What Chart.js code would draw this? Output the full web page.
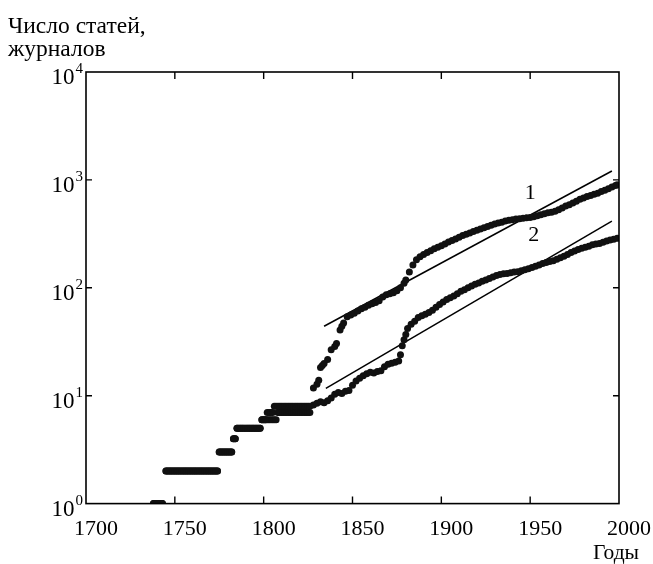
<!DOCTYPE html>
<html>
<head>
<meta charset="utf-8">
<script src="https://cdn.jsdelivr.net/npm/chart.js@4"></script>
<style>
  html, body { margin: 0; padding: 0; background: #fff; }
  #wrap { width: 653px; height: 564px; }
</style>
</head>
<body>
<div id="wrap"><canvas id="myChart" width="653" height="564"></canvas></div>
<script>
// годы и число статей (кривая 1)
var years1 = [1738,1739,1740,1741,1742,1743,
  1745,1746,1747,1748,1749,1750,1751,1752,1753,1754,1755,1756,1757,1758,1759,1760,1761,1762,1763,1764,1765,1766,1767,1768,1769,1770,1771,1772,1773,1774,
  1775,1776,1777,1778,1779,1780,1781,1782,1783,1784,
  1785,1786,1787,1788,1789,1790,1791,1792,1793,1794,1795,1796,1797,1798,
  1799,1800,1801,1802,1803,1804,1805,
  1806,1807,1808,1809,1810,1811,1812,1813,1814,1815,1816,1817,1818,1819,1820,1821,1822,1823,1824,1825,1826,
  1828,1830,1831,1832,1833,1834,1836,1838,1840,1841,1843,1844,1845,1847,1849,1851,1853,1855,1857,1859,1861,1863,1865,1867,1869,1871,1873,1875,1877,1879,1880,
  1882,1884,1886,1888,1890,1892,1894,1896,1898,1900,1902,1904,1906,1908,1910,1912,1914,1916,1918,1920,1922,1924,1926,1928,1930,1932,1934,1936,1938,1940,
  1942,1944,1946,1948,1950,1952,1954,1956,1958,1960,1962,1964,1966,1968,1970,1972,1974,1976,1978,1980,1982,1984,1986,1988,1990,1992,1994,1996,1998,1999];
var articles = [1,1,1,1,1,1,
  2,2,2,2,2,2,2,2,2,2,2,2,2,2,2,2,2,2,2,2,2,2,2,2,2,2,2,2,2,2,
  3,3,3,3,3,3,3,3,4,4,
  5,5,5,5,5,5,5,5,5,5,5,5,5,5,
  6,6,6,7,7,7,7,
  8,8,8,8,8,8,8,8,8,8,8,8,8,8,8,8,8,8,8,8,8,
  11.8,12.8,13.9,18.3,19,19.9,21.6,26.7,28.5,30.4,40.7,44,47.2,54,56,58,61,64,66,69,71,73,76,82,86,88,90,94,100,110,118,
  140,163,182,194,204,212,220,230,238,245,255,266,275,284,294,305,313,322,332,342,350,360,370,380,390,398,406,415,422,428,
  433,437,441,445,448,456,465,475,485,495,502,512,530,550,572,590,612,635,660,680,700,715,735,752,780,802,830,860,885,900];

// годы и число журналов (кривая 2)
var years2 = [1738,1739,1740,1741,1742,1743,
  1745,1746,1747,1748,1749,1750,1751,1752,1753,1754,1755,1756,1757,1758,1759,1760,1761,1762,1763,1764,1765,1766,1767,1768,1769,1770,1771,1772,1773,1774,
  1775,1776,1777,1778,1779,1780,1781,1782,1783,1784,
  1785,1786,1787,1788,1789,1790,1791,1792,1793,1794,1795,1796,1797,1798,
  1799,1800,1801,1802,1803,1804,1805,1806,1807,
  1808,1809,1810,1811,1812,1813,1814,1815,1816,1817,1818,1819,1820,1821,1822,1823,1824,1825,1826,
  1828,1830,1832,1834,1836,1838,1840,1842,1844,1846,1848,1850,1852,1854,1856,1858,1860,1862,1864,1866,1868,1870,1872,1874,1876,
  1877,1878,1879,1880,1881,1883,1885,1887,1889,1891,1893,1895,1897,1899,1901,1903,1905,1907,1909,1911,1913,1915,1917,1919,1921,1923,1925,1927,1929,
  1931,1933,1935,1937,1939,1941,1943,1945,1947,1949,1951,1953,1955,1957,1959,1961,1963,1965,1967,1969,1971,1973,1975,1977,1979,1981,1983,1985,1987,1989,
  1991,1993,1995,1997,1999];
var journals = [1,1,1,1,1,1,
  2,2,2,2,2,2,2,2,2,2,2,2,2,2,2,2,2,2,2,2,2,2,2,2,2,2,2,2,2,2,
  3,3,3,3,3,3,3,3,4,4,
  5,5,5,5,5,5,5,5,5,5,5,5,5,5,
  6,6,6,6,6,6,6,6,6,
  7,7,7,7,7,7,7,7,7,7,7,7,7,7,7,7,7,7,7,
  8.2,8.5,8.8,8.6,9.0,9.5,10.3,10.7,10.5,11,11.2,12.5,13.7,14.5,15.3,16,16.5,16.2,16.8,17,18.5,19.6,20,20.4,21,
  24,29,33,37,42,46,49,53,55,57,59,62,66,70,74,78,81,84,88,93,96,100,104,108,111,115,118,122,126,
  130,133,135,136,138,140,141,144,147,150,154,158,163,168,172,175,178,184,190,196,204,212,219,226,232,237,243,250,254,258,
  265,272,277,282,288];

// прямые-аппроксимации (концы)
var fitYears1 = [1834, 1996];
var fitValues1 = [44, 1210];
var fitYears2 = [1835, 1996];
var fitValues2 = [11.7, 415];

// подписи осей
var xTicks = [1700, 1750, 1800, 1850, 1900, 1950, 2000];
var yTicks = [1, 10, 100, 1000, 10000];
var yTitle = ['Число статей,', 'журналов'];
var xTitle = 'Годы';
var curveNames = ['1', '2'];
var curveNameAt = [[1950, 760], [1952, 305]];

function toPoints(xs, ys) {
  return xs.map(function (x, i) { return { x: x, y: ys[i] }; });
}

var serif = '"Liberation Serif", "DejaVu Serif", serif';

var framePlugin = {
  id: 'frame',
  afterDraw: function (chart) {
    var ctx = chart.ctx;
    var a = chart.chartArea;
    var xs = chart.scales.x;
    var ys = chart.scales.y;
    ctx.save();
    ctx.strokeStyle = '#000';
    ctx.lineWidth = 1.6;
    ctx.strokeRect(a.left, a.top, a.right - a.left, a.bottom - a.top);

    // засечки внутрь
    ctx.lineWidth = 1.4;
    xTicks.slice(1, -1).forEach(function (t) {
      var px = xs.getPixelForValue(t);
      ctx.beginPath();
      ctx.moveTo(px, a.bottom); ctx.lineTo(px, a.bottom - 7);
      ctx.moveTo(px, a.top); ctx.lineTo(px, a.top + 7);
      ctx.stroke();
    });
    yTicks.slice(1, -1).forEach(function (t) {
      var py = ys.getPixelForValue(t);
      ctx.beginPath();
      ctx.moveTo(a.left, py); ctx.lineTo(a.left + 6, py);
      ctx.moveTo(a.right, py); ctx.lineTo(a.right - 6, py);
      ctx.stroke();
    });

    // 10^n
    ctx.fillStyle = '#000';
    ctx.textBaseline = 'alphabetic';
    yTicks.forEach(function (t) {
      var py = ys.getPixelForValue(t);
      var e = String(Math.round(Math.log10(t)));
      ctx.font = '15px ' + serif;
      ctx.textAlign = 'right';
      ctx.fillText(e, a.left - 3, py + 1);
      var ew = ctx.measureText(e).width;
      ctx.font = '23px ' + serif;
      ctx.fillText('10', a.left - 4 - ew, py + 12);
    });

    // заголовки
    ctx.textAlign = 'left';
    ctx.font = '23.5px ' + serif;
    ctx.fillText(yTitle[0], 8, 33);
    ctx.fillText(yTitle[1], 8, 56);
    ctx.font = '21.5px ' + serif;
    ctx.fillText(xTitle, 593, 559);

    // номера кривых
    ctx.textAlign = 'center';
    ctx.textBaseline = 'middle';
    ctx.font = '22px ' + serif;
    curveNames.forEach(function (n, i) {
      ctx.fillText(n, xs.getPixelForValue(curveNameAt[i][0]), ys.getPixelForValue(curveNameAt[i][1]));
    });
    ctx.restore();
  }
};

var ctx = document.getElementById('myChart').getContext('2d');
var chart = new Chart(ctx, {
  type: 'scatter',
  data: {
    datasets: [
      {
        label: '1',
        data: toPoints(years1, articles),
        pointRadius: 3.5,
        pointBorderWidth: 0,
        backgroundColor: '#111',
        showLine: false
      },
      {
        label: '2',
        data: toPoints(years2, journals),
        pointRadius: 3.5,
        pointBorderWidth: 0,
        backgroundColor: '#111',
        showLine: false
      },
      {
        label: 'fit 1',
        data: toPoints(fitYears1, fitValues1),
        showLine: true,
        pointRadius: 0,
        borderColor: '#000',
        borderWidth: 1.5
      },
      {
        label: 'fit 2',
        data: toPoints(fitYears2, fitValues2),
        showLine: true,
        pointRadius: 0,
        borderColor: '#000',
        borderWidth: 1.5
      }
    ]
  },
  options: {
    responsive: false,
    animation: false,
    layout: { padding: { left: 86, top: 72, right: 33, bottom: 10 } },
    plugins: {
      legend: { display: false },
      tooltip: { enabled: false }
    },
    scales: {
      x: {
        type: 'linear',
        min: 1700,
        max: 2000,
        afterBuildTicks: function (scale) {
          scale.ticks = xTicks.map(function (v) { return { value: v }; });
        },
        ticks: {
          color: '#000',
          font: { family: serif, size: 22 },
          padding: 12,
          labelOffset: 10,
          maxRotation: 0,
          callback: function (v) { return String(v); }
        },
        grid: { display: false, drawTicks: false },
        border: { display: false }
      },
      y: {
        type: 'logarithmic',
        min: 1,
        max: 10000,
        ticks: { display: false },
        grid: { display: false, drawTicks: false },
        border: { display: false }
      }
    }
  },
  plugins: [framePlugin]
});
</script>
</body>
</html>
